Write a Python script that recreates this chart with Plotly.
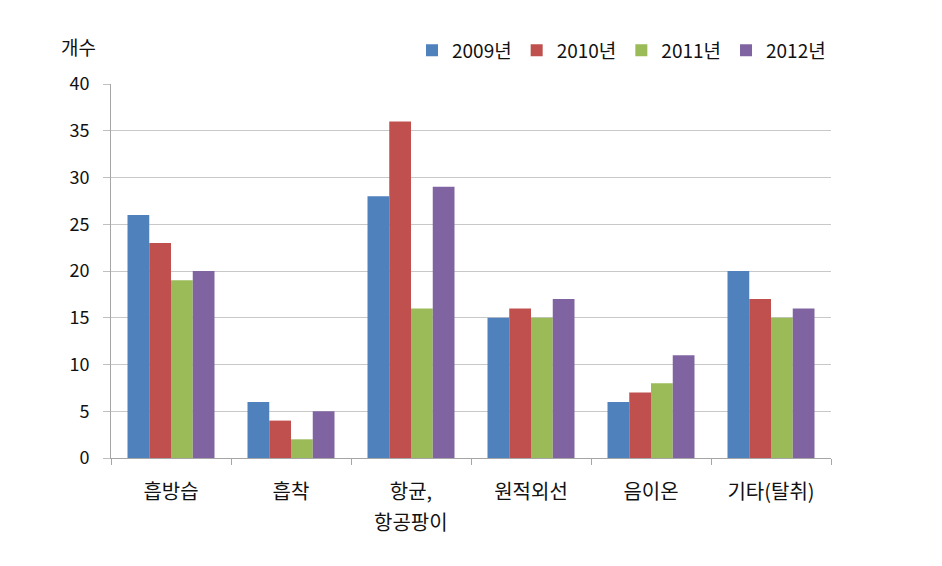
import plotly.graph_objects as go

categories = ["흡방습", "흡착", "항균, 항공팡이", "원적외선", "음이온", "기타(탈취)"]
years = ["2009년", "2010년", "2011년", "2012년"]
v2009 = [26, 6, 28, 15, 6, 20]
v2010 = [23, 4, 36, 16, 7, 17]
v2011 = [19, 2, 16, 15, 8, 15]
v2012 = [20, 5, 29, 17, 11, 16]
colors = ["#4F81BD", "#C0504D", "#9BBB59", "#8064A2"]

FONT = "Noto Sans CJK KR, Noto Sans, sans-serif"

first_lines = [c.split(" ")[0] for c in categories]
second_lines = [(c, c.split(" ", 1)[1]) for c in categories if " " in c]

fig = go.Figure()
for name, vals, c in zip(years, [v2009, v2010, v2011, v2012], colors):
    fig.add_trace(go.Bar(x=categories, y=vals, name=name, marker=dict(color=c, line=dict(width=0))))

annotations = [dict(text="개수", xref="paper", yref="paper", x=-0.045, y=1.099,
                    showarrow=False, font=dict(size=19), xanchor="center", yanchor="middle")]
for cat, line2 in second_lines:
    annotations.append(dict(text=line2, xref="x", yref="paper", x=cat, y=-(521 - 458) / 374,
                            showarrow=False, font=dict(size=20), xanchor="center", yanchor="middle"))

fig.update_layout(
    width=942, height=566,
    margin=dict(l=111, r=111, t=84, b=108),
    paper_bgcolor="white", plot_bgcolor="white",
    barmode="group", bargap=0.275, bargroupgap=0,
    font=dict(family=FONT, size=18, color="#111111"),
    legend=dict(orientation="h", x=1.0, xanchor="right", y=1.09, yanchor="middle",
                font=dict(size=19), traceorder="normal", itemwidth=30),
    xaxis=dict(showline=True, linecolor="#A6A6A6", linewidth=1, ticks="outside", tickson="boundaries",
               ticklen=6, tickcolor="#A6A6A6", showgrid=False, ticklabelstandoff=16,
               tickmode="array", tickvals=categories, ticktext=first_lines,
               tickfont=dict(size=20)),
    yaxis=dict(range=[0, 40], dtick=5, showline=True, linecolor="#A6A6A6", linewidth=1,
               ticks="outside", ticklen=7, tickcolor="#BFBFBF", gridcolor="#C8C8C8", gridwidth=1,
               ticklabelstandoff=10, tickfont=dict(size=18)),
    annotations=annotations,
)

fig.write_html("out.html")
